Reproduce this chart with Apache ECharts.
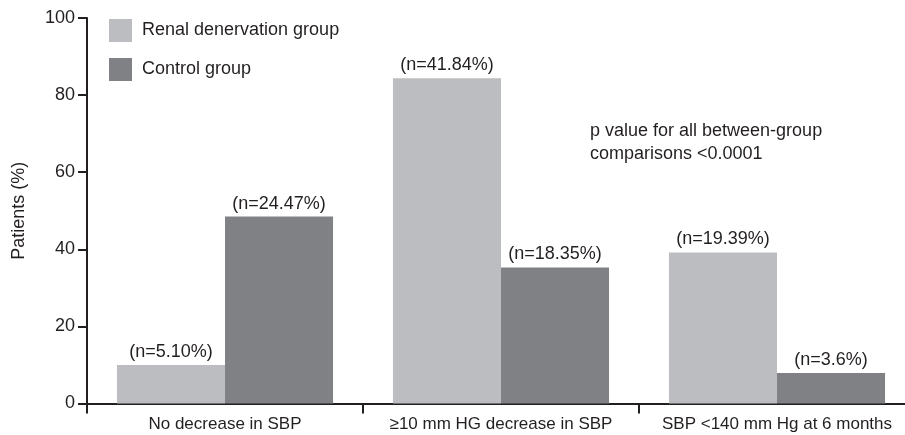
<!DOCTYPE html>
<html><head><meta charset="utf-8">
<script src="https://cdn.jsdelivr.net/npm/echarts@6/dist/echarts.min.js"></script>
<style>html,body{margin:0;padding:0;background:#fff}#c{width:905px;height:435px}</style>
</head><body><div id="c"></div>
<script>
const categories = ['No decrease in SBP', '\u226510 mm HG decrease in SBP', 'SBP <140 mm Hg at 6 months'];
const seriesNames = ['Renal denervation group', 'Control group'];
const renalValues = [10.0, 84.4, 39.2];
const controlValues = [48.5, 35.3, 7.9];
const renalLabels = ['(n=5.10%)', '(n=41.84%)', '(n=19.39%)'];
const controlLabels = ['(n=24.47%)', '(n=18.35%)', '(n=3.6%)'];
const yTicks = [0, 20, 40, 60, 80, 100];
const note = ['p value for all between-group', 'comparisons <0.0001'];

const FONT = 'Liberation Sans, Arial, sans-serif';
const TXT = '#231f20';
const FS = 18;
const chart = echarts.init(document.getElementById('c'), null, {renderer: 'canvas'});
function mk(name, vals, labels, color) {
  return {
    name: name, type: 'bar', barGap: '0%', barCategoryGap: '21.7%',
    data: vals.map((v, i) => ({value: v, label: {formatter: labels[i]}})),
    itemStyle: {color: color},
    label: {show: true, position: 'top', distance: 4, color: TXT, fontFamily: FONT, fontSize: FS},
    emphasis: {disabled: true}
  };
}
chart.setOption({
  animation: false,
  textStyle: {fontFamily: FONT},
  grid: {left: 87, width: 828, top: 18, bottom: 31.5, containLabel: false, outerBoundsMode: 'none'},
  legend: {
    orient: 'vertical', left: 104, top: 14, itemWidth: 23, itemHeight: 23, itemGap: 16,
    icon: 'rect', data: seriesNames,
    textStyle: {color: TXT, fontSize: FS, fontFamily: FONT, padding: [0, 0, 0, 5]}
  },
  xAxis: {
    type: 'category', data: categories,
    axisLine: {lineStyle: {color: TXT, width: 2}},
    axisTick: {show: true, length: 10, lineStyle: {color: TXT, width: 2}},
    axisLabel: {color: TXT, fontSize: 17, margin: 12, fontFamily: FONT, interval: 0}
  },
  yAxis: {
    type: 'value', min: yTicks[0], max: yTicks[yTicks.length - 1], interval: 20,
    name: 'Patients (%)', nameLocation: 'middle', nameGap: 59,
    nameTextStyle: {color: TXT, fontSize: FS, fontFamily: FONT},
    axisLine: {show: true, lineStyle: {color: TXT, width: 2}},
    axisTick: {show: true, length: 9, lineStyle: {color: TXT, width: 2}},
    axisLabel: {color: TXT, fontSize: FS, margin: 12, fontFamily: FONT},
    splitLine: {show: false}
  },
  graphic: [{
    type: 'text', left: 590, top: 120,
    style: {text: note.join('\n'), fill: TXT, font: FS + 'px ' + FONT, lineHeight: 23}
  }],
  series: [
    mk(seriesNames[0], renalValues, renalLabels, '#bcbdc0'),
    mk(seriesNames[1], controlValues, controlLabels, '#808184')
  ]
});
</script></body></html>
